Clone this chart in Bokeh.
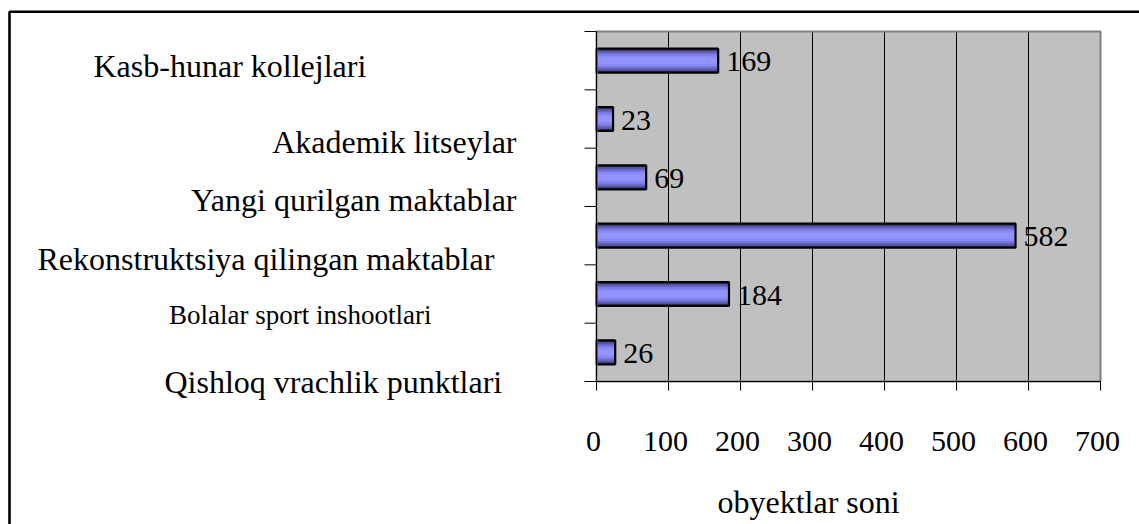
import numpy as np
from bokeh.plotting import figure
from bokeh.models import Range1d, ColumnDataSource, LabelSet, Label, BoxAnnotation
from bokeh.embed import file_html
from bokeh.resources import INLINE
from bokeh.core.properties import value

# ---------------- data ----------------
categories = [
    "Kasb-hunar kollejlari",
    "Akademik litseylar",
    "Yangi qurilgan maktablar",
    "Rekonstruktsiya qilingan maktablar",
    "Bolalar sport inshootlari",
    "Qishloq vrachlik punktlari",
]
counts = [169, 23, 69, 582, 184, 26]
x_ticks = [0, 100, 200, 300, 400, 500, 600, 700]
x_title = "obyektlar soni"

# ---------------- layout / style (not data) ----------------
FONT = "Liberation Serif"
W, H = 1139, 524
PLOT_LEFT, PLOT_RIGHT, PLOT_TOP, PLOT_BOTTOM = 596, 1100, 31, 381   # canvas px of the plot area
cat_label_x = [93, 516, 516, 37, 168.5, 164]          # canvas px
cat_label_y = [65, 141, 199, 258, 314, 381]           # canvas px (text middle)
cat_label_align = ["left", "right", "right", "left", "left", "left"]
cat_label_size = ["32px", "32px", "32px", "32px", "27px", "32px"]

n = len(categories)
xmin, xmax = x_ticks[0], x_ticks[-1]
sx = (PLOT_RIGHT - PLOT_LEFT) / (xmax - xmin)
sy = (PLOT_BOTTOM - PLOT_TOP) / n
x_range = Range1d(xmin - PLOT_LEFT / sx, xmax + (W - PLOT_RIGHT) / sx)
y_range = Range1d(0 - (H - PLOT_BOTTOM) / sy, n + PLOT_TOP / sy)

p = figure(width=W, height=H, output_backend="svg", toolbar_location=None,
           x_range=x_range, y_range=y_range, x_axis_type=None, y_axis_type=None,
           min_border=0)
p.title.visible = False
p.grid.visible = False
p.outline_line_color = None
p.background_fill_color = "white"
p.border_fill_color = "white"

# plot area
p.quad(left=xmin, right=xmax, bottom=0, top=n, fill_color="#c0c0c0", line_color=None)

# vertical gridlines
gx = x_ticks[1:-1]
p.segment(x0=gx, y0=[0] * len(gx), x1=gx, y1=[n] * len(gx), line_color="black", line_width=1)

# bars (layered to mimic the gradient fill)
ypos = [n - i - 0.5 for i in range(n)]
src = ColumnDataSource(dict(y=ypos, v=counts, t=[str(c) for c in counts]))
BH = 0.41
layers = [(1.0, "#34345e"), (0.86, "#5252a0"), (0.72, "#6868c4"), (0.58, "#7a7ae2"),
          (0.44, "#8888f6"), (0.26, "#9494ff")]
for frac, col in layers:
    p.hbar(y="y", left=0, right="v", height=BH * frac, source=src,
           fill_color=col, line_color=None)
p.hbar(y="y", left=0, right="v", height=BH, source=src,
       fill_color=None, line_color="black", line_width=2.2)

# plot-area border (grey on top / right)
p.quad(left=xmin, right=xmax, bottom=0, top=n, fill_color=None,
       line_color="#808080", line_width=2)

# axes lines and ticks
p.segment(x0=[xmin, xmin], y0=[0, 0], x1=[xmin, xmax], y1=[n, 0], line_color="black", line_width=1)
p.ray(x=[xmin] * (n + 1), y=list(range(n + 1)), length=12, angle=np.pi,
      length_units="screen", line_color="black", line_width=1)
p.ray(x=x_ticks, y=[0] * len(x_ticks), length=9, angle=-np.pi / 2,
      length_units="screen", line_color="black", line_width=1)

# tick labels
tsrc = ColumnDataSource(dict(x=x_ticks, y=[0] * len(x_ticks), t=[str(v) for v in x_ticks]))
p.add_layout(LabelSet(x="x", y="y", text="t", source=tsrc, x_offset=-3, y_offset=-69,
                      text_font=value(FONT), text_font_size="30px",
                      text_align="center", text_baseline="alphabetic", text_color="black"))

# value labels
p.add_layout(LabelSet(x="v", y="y", text="t", source=src, x_offset=8, y_offset=-1,
                      text_font=value(FONT), text_font_size="30px",
                      text_baseline="middle", text_align="left", text_color="black"))

# x-axis title
p.add_layout(Label(x=717, y=501, x_units="canvas", y_units="canvas", text=x_title,
                   text_font=FONT, text_font_size="32px", text_align="left",
                   text_baseline="middle", text_color="black"))

# category labels
for txt, lx, ly, al, fs in zip(categories, cat_label_x, cat_label_y, cat_label_align, cat_label_size):
    p.add_layout(Label(x=lx, y=ly, x_units="canvas", y_units="canvas", text=txt,
                       text_font=FONT, text_font_size=fs, text_align=al,
                       text_baseline="middle", text_color="black"))

# outer chart border (only its left and top edges fall inside the window)
p.add_layout(BoxAnnotation(left=9, right=5000, top=11.3, bottom=5000,
                           left_units="canvas", right_units="canvas",
                           top_units="canvas", bottom_units="canvas",
                           fill_color=None, fill_alpha=0,
                           line_color="black", line_alpha=1.0, line_width=2.6))

open("out.html", "w").write(file_html(p, INLINE))
